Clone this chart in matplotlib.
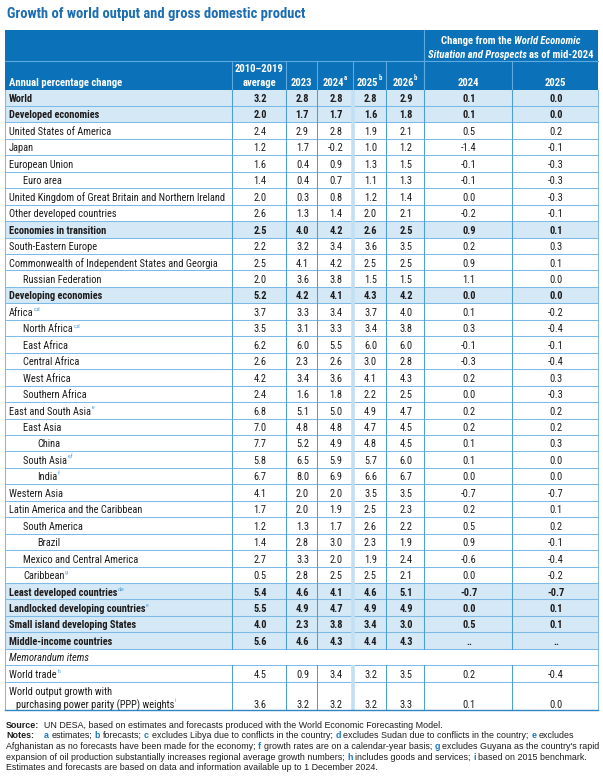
import matplotlib
matplotlib.use('Agg')
import matplotlib.pyplot as plt
from matplotlib.patches import Rectangle

# ---------------- data ----------------
row_labels = [
    "World", "Developed economies", "United States of America", "Japan",
    "European Union", "Euro area",
    "United Kingdom of Great Britain and Northern Ireland",
    "Other developed countries", "Economies in transition",
    "South-Eastern Europe", "Commonwealth of Independent States and Georgia",
    "Russian Federation", "Developing economies", "Africa", "North Africa",
    "East Africa", "Central Africa", "West Africa", "Southern Africa",
    "East and South Asia", "East Asia", "China", "South Asia", "India",
    "Western Asia", "Latin America and the Caribbean", "South America",
    "Brazil", "Mexico and Central America", "Caribbean",
    "Least developed countries", "Landlocked developing countries",
    "Small island developing States", "Middle-income countries",
    "Memorandum items", "World trade",
    "World output growth with\npurchasing power parity (PPP) weights",
]
row_notes = ["", "", "", "", "", "", "", "", "", "", "", "", "",
             "c,d", "c,d", "", "", "", "", "e", "", "", "e,f", "f",
             "", "", "", "", "", "g", "d,e", "e", "", "", "", "h", "i"]
row_indent = [0, 0, 0, 0, 0, 1, 0, 0, 0, 0, 0, 1, 0, 0, 1, 1, 1, 1, 1,
              0, 1, 2, 1, 2, 0, 0, 1, 2, 1, 1, 0, 0, 0, 0, 0, 0, 0]
bold_rows = [0, 1, 8, 12, 30, 31, 32, 33]
memo_row = 34

avg_2010_2019 = [3.2, 2.0, 2.4, 1.2, 1.6, 1.4, 2.0, 2.6, 2.5, 2.2, 2.5, 2.0, 5.2,
                 3.7, 3.5, 6.2, 2.6, 4.2, 2.4, 6.8, 7.0, 7.7, 5.8, 6.7, 4.1, 1.7,
                 1.2, 1.4, 2.7, 0.5, 5.4, 5.5, 4.0, 5.6, None, 4.5, 3.6]
g2023 = [2.8, 1.7, 2.9, 1.7, 0.4, 0.4, 0.3, 1.3, 4.0, 3.2, 4.1, 3.6, 4.2,
         3.3, 3.1, 6.0, 2.3, 3.4, 1.6, 5.1, 4.8, 5.2, 6.5, 8.0, 2.0, 2.0,
         1.3, 2.8, 3.3, 2.8, 4.6, 4.9, 2.3, 4.6, None, 0.9, 3.2]
g2024 = [2.8, 1.7, 2.8, -0.2, 0.9, 0.7, 0.8, 1.4, 4.2, 3.4, 4.2, 3.8, 4.1,
         3.4, 3.3, 5.5, 2.6, 3.6, 1.8, 5.0, 4.8, 4.9, 5.9, 6.9, 2.0, 1.9,
         1.7, 3.0, 2.0, 2.5, 4.1, 4.7, 3.8, 4.3, None, 3.4, 3.2]
g2025 = [2.8, 1.6, 1.9, 1.0, 1.3, 1.1, 1.2, 2.0, 2.6, 3.6, 2.5, 1.5, 4.3,
         3.7, 3.4, 6.0, 3.0, 4.1, 2.2, 4.9, 4.7, 4.8, 5.7, 6.6, 3.5, 2.5,
         2.6, 2.3, 1.9, 2.5, 4.6, 4.9, 3.4, 4.4, None, 3.2, 3.2]
g2026 = [2.9, 1.8, 2.1, 1.2, 1.5, 1.3, 1.4, 2.1, 2.5, 3.5, 2.5, 1.5, 4.2,
         4.0, 3.8, 6.0, 2.8, 4.3, 2.5, 4.7, 4.5, 4.5, 6.0, 6.7, 3.5, 2.3,
         2.2, 1.9, 2.4, 2.1, 5.1, 4.9, 3.0, 4.3, None, 3.5, 3.3]
chg2024 = [0.1, 0.1, 0.5, -1.4, -0.1, -0.1, 0.0, -0.2, 0.9, 0.2, 0.9, 1.1, 0.0,
           0.1, 0.3, -0.1, -0.3, 0.2, 0.0, 0.2, 0.2, 0.1, 0.1, 0.0, -0.7, 0.2,
           0.5, 0.9, -0.6, 0.0, -0.7, 0.0, 0.5, None, None, 0.2, 0.1]
chg2025 = [0.0, 0.0, 0.2, -0.1, -0.3, -0.3, -0.3, -0.1, 0.1, 0.3, 0.1, 0.0, 0.0,
           -0.2, -0.4, -0.1, -0.4, 0.3, -0.3, 0.2, 0.2, 0.3, 0.0, 0.0, -0.7, 0.1,
           0.2, -0.1, -0.4, -0.2, -0.7, 0.1, 0.1, None, None, -0.4, 0.0]

value_columns = [avg_2010_2019, g2023, g2024, g2025, g2026, chg2024, chg2025]
col_headers = [("2010\u20132019\naverage", ""), ("2023", ""), ("2024", "a"),
               ("2025", "b"), ("2026", "b"), ("2024", ""), ("2025", "")]
first_header = "Annual percentage change"
title = "Growth of world output and gross domestic product"

# ---------------- style / layout ----------------
W, H = 603, 776
HEADER = '#0B72B9'
HIL = '#D4E8F6'
HGRID = '#7DBBE6'
VGRID = '#4E9FD8'
BAND = '#C3DFF4'
HDRLINE = '#5DA9E0'
SUPC = '#4A9BD8'
TXT = '#1E1B1C'
TITLEC = '#1C6DB3'
LETC = '#1C79C0'

NARROW = ['Liberation Sans Narrow', 'Roboto Condensed', 'Roboto', 'DejaVu Sans']
REG = ['Liberation Sans', 'Roboto', 'DejaVu Sans']

fig = plt.figure(figsize=(W / 100, H / 100), dpi=100)
ax = fig.add_axes([0, 0, 1, 1])
ax.set_xlim(0, W)
ax.set_ylim(H, 0)
ax.axis('off')
renderer = fig.canvas.get_renderer()


def twidth(s, **kw):
    t = ax.text(0, 0, s, **kw)
    w = t.get_window_extent(renderer).width
    t.remove()
    return w


def fit(s, target, **kw):
    base = 10
    return base * target / twidth(s, fontsize=base, **kw)


def runs_width(runs, size):
    sp = twidth('x x', fontsize=size, family=REG) - twidth('xx', fontsize=size, family=REG)
    tot = 0
    for s, kw in runs:
        lead = len(s) - len(s.lstrip(' '))
        trail = len(s) - len(s.rstrip(' '))
        tot += (lead + trail) * sp
        if s.strip():
            tot += twidth(s.strip(), fontsize=size, family=REG, **kw)
    return tot


def draw_runs(x, y, runs, size):
    sp = twidth('x x', fontsize=size, family=REG) - twidth('xx', fontsize=size, family=REG)
    for s, kw in runs:
        lead = len(s) - len(s.lstrip(' '))
        trail = len(s) - len(s.rstrip(' '))
        x += lead * sp
        if s.strip():
            t = ax.text(x, y, s.strip(), fontsize=size, family=REG, va='center_baseline',
                        ha='left', **kw)
            x += t.get_window_extent(renderer).width
        x += trail * sp


L, R = 5, 598
col_edges = [232, 286, 317, 353, 386, 424, 512, 598]
TOP, HMID, HBOT = 30, 61, 89.5
RH = 16.45
n_rows = len(row_labels)
row_tops = [HBOT + RH * i for i in range(n_rows)]
BOTTOM = 710
row_bots = row_tops[1:] + [BOTTOM]

body_fs = fit("United Kingdom of Great Britain and Northern Ireland", 215, family=NARROW)
hdr_fs = fit(first_header, 113, family=NARROW, fontweight='bold')
title_fs = fit(title, 298, family=NARROW, fontweight='bold')

# title
ax.text(7, 12.5, title, fontsize=title_fs, family=NARROW, fontweight='bold', color=TITLEC,
        va='center_baseline', ha='left')

# header background
ax.add_patch(Rectangle((L, TOP), R - L, HBOT - TOP, facecolor=HEADER, edgecolor='none'))
ax.plot([L, R], [HMID, HMID], color=HDRLINE, lw=0.8)
ax.plot([col_edges[5], col_edges[5]], [TOP, HBOT], color=HDRLINE, lw=0.8)
for xe in col_edges[:-1]:
    ax.plot([xe, xe], [HMID, HBOT], color=HDRLINE, lw=0.8)

ax.text(9, 81.5, first_header, fontsize=hdr_fs, family=NARROW, fontweight='bold',
        color='white', va='center_baseline', ha='left')
for j, (lab, sup) in enumerate(col_headers):
    cx = (col_edges[j] + col_edges[j + 1]) / 2
    if '\n' in lab:
        l1, l2 = lab.split('\n')
        ax.text(cx, 68.5, l1, fontsize=hdr_fs, family=NARROW, fontweight='bold', color='white',
                va='center_baseline', ha='center')
        ax.text(cx, 81.5, l2, fontsize=hdr_fs, family=NARROW, fontweight='bold', color='white',
                va='center_baseline', ha='center')
    else:
        w1 = twidth(lab, fontsize=hdr_fs, family=NARROW, fontweight='bold')
        w2 = twidth(sup, fontsize=hdr_fs * 0.62, family=NARROW, fontweight='bold') if sup else 0
        x0 = cx - (w1 + w2) / 2
        ax.text(x0, 81.5, lab, fontsize=hdr_fs, family=NARROW, fontweight='bold', color='white',
                va='center_baseline', ha='left')
        if sup:
            ax.text(x0 + w1 - 0.3, 77.5, sup, fontsize=hdr_fs * 0.62, family=NARROW,
                    fontweight='bold', color='white', va='center_baseline', ha='left')

# "Change from the World Economic Situation and Prospects as of mid-2024"
cx = (col_edges[5] + col_edges[7]) / 2
hline1 = [("Change from the ", {}), ("World Economic", {'style': 'italic'})]
hline2 = [("Situation and Prospects", {'style': 'italic'}), (" as of mid-2024", {})]


def hdr_runs(runs, y):
    sp = twidth('x x', fontsize=hdr_fs, family=NARROW, fontweight='bold') - \
        twidth('xx', fontsize=hdr_fs, family=NARROW, fontweight='bold')
    items = []
    tot = 0
    for s, kw in runs:
        lead = len(s) - len(s.lstrip(' '))
        trail = len(s) - len(s.rstrip(' '))
        w = twidth(s.strip(), fontsize=hdr_fs, family=NARROW, fontweight='bold', **kw)
        items.append((lead * sp, s.strip(), kw, w, trail * sp))
        tot += lead * sp + w + trail * sp
    x = cx - tot / 2
    for lead, s, kw, w, trail in items:
        x += lead
        ax.text(x, y, s, fontsize=hdr_fs, family=NARROW, fontweight='bold', color='white',
                va='center_baseline', ha='left', **kw)
        x += w + trail


hdr_runs(hline1, 40.5)
hdr_runs(hline2, 54)

# body
for i in range(n_rows):
    top, bot = row_tops[i], row_bots[i]
    if i in bold_rows:
        ax.add_patch(Rectangle((L, top), R - L, bot - top, facecolor=HIL, edgecolor='none'))

for i in range(1, n_rows):
    ax.plot([L, R], [row_tops[i], row_tops[i]], color=HGRID, lw=0.75)

memo_top, memo_bot = row_tops[memo_row], row_bots[memo_row]
for k, xe in enumerate([L] + col_edges):
    if xe in (L, R):
        ax.plot([xe, xe], [HBOT, BOTTOM], color=HGRID, lw=0.75)
        continue
    if xe == col_edges[3]:
        ax.plot([xe, xe], [HBOT, memo_top], color=BAND, lw=2.6, solid_capstyle='butt')
        ax.plot([xe, xe], [memo_bot, BOTTOM], color=BAND, lw=2.6, solid_capstyle='butt')
    else:
        ax.plot([xe, xe], [HBOT, memo_top], color=VGRID, lw=0.75)
        ax.plot([xe, xe], [memo_bot, BOTTOM], color=VGRID, lw=0.75)
ax.plot([L, R], [BOTTOM, BOTTOM], color='#2F86C6', lw=1.0)

indent_x = [9, 23, 37]
for i, lab in enumerate(row_labels):
    top, bot = row_tops[i], row_bots[i]
    bold = i in bold_rows
    kw = dict(fontsize=body_fs, family=NARROW, color=TXT, va='center_baseline', ha='left',
              fontweight='bold' if bold else 'normal')
    if i == memo_row:
        kw['style'] = 'italic'
    if '\n' in lab:
        l1, l2 = lab.split('\n')
        yv = bot - 6.5
        ax.text(indent_x[0], yv - 12.7, l1, **kw)
        t = ax.text(16, yv, l2, **kw)
        ylab = yv
    else:
        ylab = (top + bot) / 2 + 0.3
        t = ax.text(indent_x[row_indent[i]], ylab, lab, **kw)
        yv = ylab
    if row_notes[i]:
        bb = t.get_window_extent(renderer)
        ax.text(t.get_position()[0] + bb.width + 0.6, ylab - 3.2, row_notes[i],
                fontsize=body_fs * 0.55, family=NARROW, color=SUPC, va='center_baseline', ha='left')
    if i == memo_row:
        continue
    for j, col in enumerate(value_columns):
        v = col[i]
        s = '..' if v is None else f"{v:.1f}"
        cxx = (col_edges[j] + col_edges[j + 1]) / 2 + 1
        ax.text(cxx, yv, s, fontsize=body_fs, family=NARROW, color=TXT, va='center_baseline',
                ha='center', fontweight='bold' if bold else 'normal')

# source / notes
bold_k = {'fontweight': 'bold', 'color': TXT}
reg_k = {'color': TXT}
let_k = {'fontweight': 'bold', 'color': LETC}
note_lines = [
    [("Source:", bold_k), ("  UN DESA, based on estimates and forecasts produced with the World Economic Forecasting Model.", reg_k)],
    [("Notes:", bold_k), ("  ", reg_k), ("a", let_k), (" estimates; ", reg_k), ("b", let_k),
     (" forecasts; ", reg_k), ("c", let_k), (" excludes Libya due to conflicts in the country; ", reg_k),
     ("d", let_k), (" excludes Sudan due to conflicts in the country; ", reg_k), ("e", let_k),
     (" excludes", reg_k)],
    [("Afghanistan as no forecasts have been made for the economy; ", reg_k), ("f", let_k),
     (" growth rates are on a calendar-year basis; ", reg_k), ("g", let_k),
     (" excludes Guyana as the country's rapid", reg_k)],
    [("expansion of oil production substantially increases regional average growth numbers; ", reg_k),
     ("h", let_k), (" includes goods and services; ", reg_k), ("i", let_k),
     (" based on 2015 benchmark.", reg_k)],
    [("Estimates and forecasts are based on data and information available up to 1 December 2024.", reg_k)],
]
note_fs = 10 * 591 / runs_width(note_lines[2], 10)
note_y = [724, 734.7, 745.4, 756.1, 766.8]
for runs, y in zip(note_lines, note_y):
    draw_runs(6, y, runs, note_fs)

fig.savefig('out.png', dpi=100)
